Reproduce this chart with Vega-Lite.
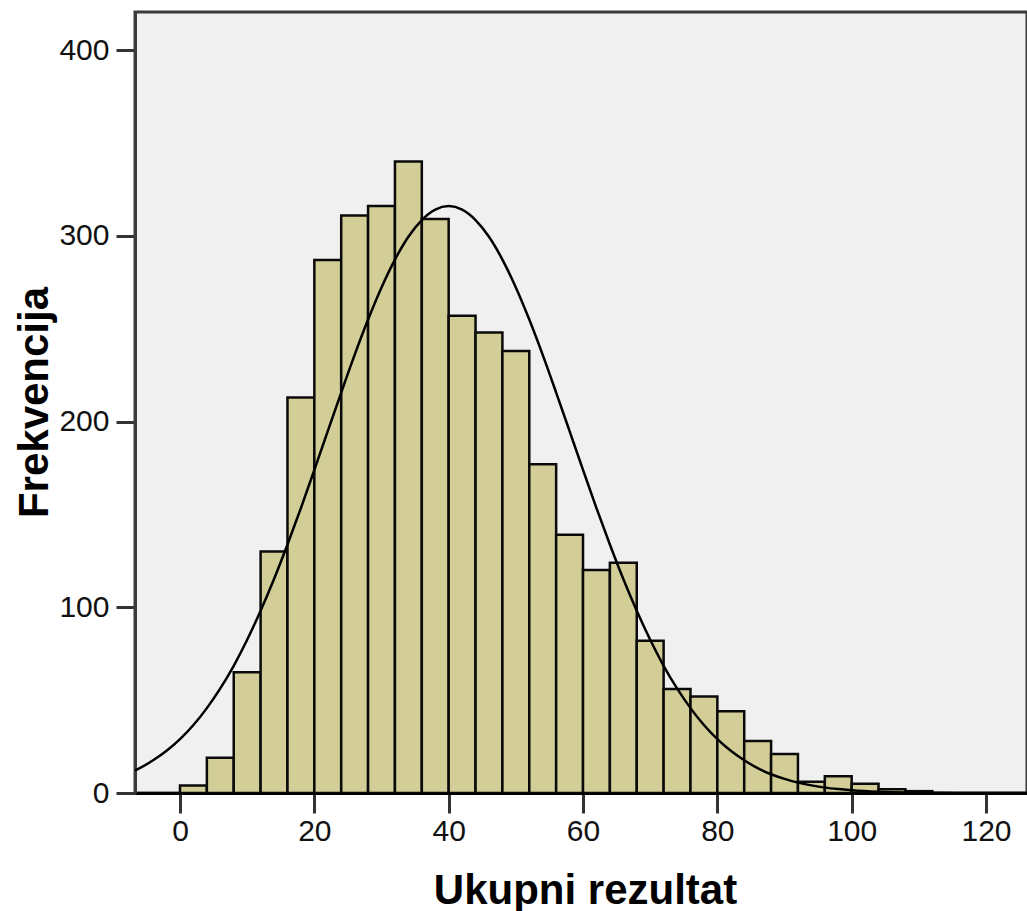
{
  "$schema": "https://vega.github.io/schema/vega-lite/v6.json",
  "width": 892,
  "height": 781,
  "autosize": {"type": "none"},
  "padding": {"left": 135, "top": 12, "right": 0, "bottom": 118},
  "background": "#ffffff",
  "config": {
    "view": {"fill": "#f0f0f0", "stroke": "#3a3a3a", "strokeWidth": 3},
    "font": "Liberation Sans"
  },
  "datasets": {
    "bins": [
      {"start": 0, "end": 4, "count": 4},
      {"start": 4, "end": 8, "count": 19},
      {"start": 8, "end": 12, "count": 65},
      {"start": 12, "end": 16, "count": 130},
      {"start": 16, "end": 20, "count": 213},
      {"start": 20, "end": 24, "count": 287},
      {"start": 24, "end": 28, "count": 311},
      {"start": 28, "end": 32, "count": 316},
      {"start": 32, "end": 36, "count": 340},
      {"start": 36, "end": 40, "count": 309},
      {"start": 40, "end": 44, "count": 257},
      {"start": 44, "end": 48, "count": 248},
      {"start": 48, "end": 52, "count": 238},
      {"start": 52, "end": 56, "count": 177},
      {"start": 56, "end": 60, "count": 139},
      {"start": 60, "end": 64, "count": 120},
      {"start": 64, "end": 68, "count": 124},
      {"start": 68, "end": 72, "count": 82},
      {"start": 72, "end": 76, "count": 56},
      {"start": 76, "end": 80, "count": 52},
      {"start": 80, "end": 84, "count": 44},
      {"start": 84, "end": 88, "count": 28},
      {"start": 88, "end": 92, "count": 21},
      {"start": 92, "end": 96, "count": 6},
      {"start": 96, "end": 100, "count": 9},
      {"start": 100, "end": 104, "count": 5},
      {"start": 104, "end": 108, "count": 2},
      {"start": 108, "end": 112, "count": 1}
    ],
    "curve": [
      {"x": -8, "y": 10.1}, {"x": -6, "y": 13.4}, {"x": -4, "y": 17.6}, {"x": -2, "y": 22.7},
      {"x": 0, "y": 29.0}, {"x": 2, "y": 36.6}, {"x": 4, "y": 45.7}, {"x": 6, "y": 56.3},
      {"x": 8, "y": 68.5}, {"x": 10, "y": 82.5}, {"x": 12, "y": 98.1}, {"x": 14, "y": 115.2},
      {"x": 16, "y": 133.8}, {"x": 18, "y": 153.4}, {"x": 20, "y": 174.0}, {"x": 22, "y": 194.8},
      {"x": 24, "y": 215.6}, {"x": 26, "y": 235.9}, {"x": 28, "y": 254.9}, {"x": 30, "y": 272.2},
      {"x": 32, "y": 287.2}, {"x": 34, "y": 299.5}, {"x": 36, "y": 308.5}, {"x": 38, "y": 314.1},
      {"x": 40, "y": 316.0}, {"x": 42, "y": 314.1}, {"x": 44, "y": 308.5}, {"x": 46, "y": 299.5},
      {"x": 48, "y": 287.2}, {"x": 50, "y": 272.2}, {"x": 52, "y": 254.9}, {"x": 54, "y": 235.9},
      {"x": 56, "y": 215.6}, {"x": 58, "y": 194.8}, {"x": 60, "y": 174.0}, {"x": 62, "y": 153.4},
      {"x": 64, "y": 133.8}, {"x": 66, "y": 115.2}, {"x": 68, "y": 98.1}, {"x": 70, "y": 82.5},
      {"x": 72, "y": 68.5}, {"x": 74, "y": 56.3}, {"x": 76, "y": 45.7}, {"x": 78, "y": 36.6},
      {"x": 80, "y": 29.0}, {"x": 82, "y": 22.7}, {"x": 84, "y": 17.6}, {"x": 86, "y": 13.4},
      {"x": 88, "y": 10.1}, {"x": 90, "y": 7.6}, {"x": 92, "y": 5.6}, {"x": 94, "y": 4.1},
      {"x": 96, "y": 2.9}, {"x": 98, "y": 2.1}, {"x": 100, "y": 1.5}, {"x": 104, "y": 0.7},
      {"x": 108, "y": 0.3}, {"x": 112, "y": 0.14}, {"x": 116, "y": 0.05}, {"x": 120, "y": 0.02},
      {"x": 128, "y": 0.0}
    ]
  },
  "layer": [
    {
      "data": {"name": "bins"},
      "mark": {"type": "rect", "fill": "#d3ce97", "stroke": "#0a0a0a", "strokeWidth": 2.5, "clip": true},
      "encoding": {
        "x": {
          "field": "start", "type": "quantitative",
          "scale": {"domain": [-6.7, 126.1], "nice": false, "zero": false},
          "axis": {
            "values": [0, 20, 40, 60, 80, 100, 120],
            "title": "Ukupni rezultat",
            "grid": false,
            "domainColor": "#000000", "domainWidth": 3,
            "tickColor": "#333333", "tickWidth": 3, "tickSize": 20,
            "labelFont": "Liberation Sans", "labelFontSize": 30, "labelColor": "#111111", "labelPadding": 3,
            "titleFont": "Liberation Sans", "titleFontSize": 42, "titleFontWeight": "bold", "titleColor": "#000000",
            "titleBaseline": "alphabetic", "titleX": 450, "titleY": 110, "titleAnchor": "middle", "titleAlign": "center"
          }
        },
        "x2": {"field": "end"},
        "y": {
          "field": "count", "type": "quantitative",
          "scale": {"domain": [0, 420.5], "nice": false},
          "axis": {
            "values": [0, 100, 200, 300, 400],
            "title": "Frekvencija",
            "grid": false,
            "domainColor": "#3a3a3a", "domainWidth": 3,
            "tickColor": "#333333", "tickWidth": 3, "tickSize": 19,
            "labelFont": "Liberation Sans", "labelFontSize": 30, "labelColor": "#111111", "labelPadding": 7,
            "titleFont": "Liberation Sans", "titleFontSize": 42, "titleFontWeight": "bold", "titleColor": "#000000",
            "titleAngle": -90, "titleBaseline": "alphabetic", "titleAlign": "center",
            "titleX": -88, "titleY": 390
          }
        },
        "y2": {"datum": 0}
      }
    },
    {
      "data": {"name": "curve"},
      "mark": {"type": "line", "color": "#000000", "strokeWidth": 2.5, "interpolate": "monotone", "clip": true},
      "encoding": {
        "x": {"field": "x", "type": "quantitative"},
        "y": {"field": "y", "type": "quantitative"}
      }
    }
  ]
}
